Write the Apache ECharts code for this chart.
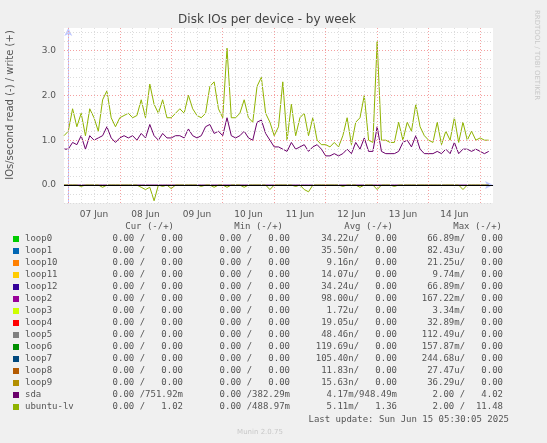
<!DOCTYPE html>
<html><head><meta charset="utf-8">
<script src="https://cdn.jsdelivr.net/npm/echarts@6/dist/echarts.min.js"></script>
<style>html,body{margin:0;padding:0;background:#f0f0f0}#c{width:547px;height:443px}</style>
</head><body><div id="c"></div>
<script>
// hours since 07 Jun 00:00, 2h step
const startHour = -2, stepHour = 2;
const lvWrite = [1.1,
 1.2,1.7,1.3,1.6,1.1,1.7,1.5,1.2,1.9,2.1,1.5,1.3,
 1.5,1.55,1.6,1.5,1.55,1.9,1.5,2.25,1.8,1.6,1.9,1.5,
 1.5,1.6,1.7,1.6,2.0,1.7,1.55,1.5,1.6,2.2,2.3,1.7,
 1.5,3.05,1.5,1.5,1.6,1.9,1.5,1.4,2.2,2.4,1.6,1.4,
 1.1,1.3,2.3,1.0,1.8,1.1,1.5,1.6,1.1,1.5,1.0,0.9,
 0.9,0.85,0.95,0.85,1.1,1.5,0.9,1.4,1.5,2.0,1.0,0.95,
 3.2,1.0,1.0,0.95,0.95,1.4,1.0,1.4,1.2,1.8,1.3,1.1,
 1.0,0.95,1.4,0.9,1.2,1.0,1.5,0.95,1.4,1.0,1.2,1.0,
 1.05,1.0,1.0];
const sdaWrite = [0.8,
 0.8,0.95,0.9,1.1,0.8,1.1,1.0,1.05,1.1,1.3,1.05,0.95,
 1.05,1.1,1.05,1.1,1.0,1.15,1.05,1.35,1.1,1.0,1.15,1.05,
 1.05,1.1,1.1,1.05,1.25,1.1,1.05,1.1,1.3,1.35,1.15,1.2,
 1.1,1.5,1.1,1.05,1.1,1.2,1.05,1.0,1.4,1.45,1.15,1.0,
 0.85,0.85,0.8,0.75,0.95,0.8,0.85,0.9,0.75,0.85,0.9,0.8,
 0.65,0.65,0.7,0.65,0.7,0.8,0.7,0.95,0.8,1.05,0.75,0.75,
 1.3,0.75,0.7,0.7,0.7,0.75,0.95,1.0,0.85,1.1,0.8,0.7,
 0.7,0.7,0.75,0.7,0.8,0.7,0.95,0.7,0.8,0.8,0.75,0.8,
 0.75,0.7,0.75];
const lvRead = [0,
 0,0,0,-0.03,0,0,0,0,-0.05,0,0,0,
 0,0,0,0,0,-0.05,-0.1,-0.05,-0.35,0,-0.03,0,
 -0.08,0,0,0,0,0,0,-0.03,0,0,-0.05,0,
 0,-0.05,0,0,0,-0.05,0,0,0,0,0,-0.1,
 0,0,0,0,0,-0.03,0,-0.1,-0.15,0,0,0,
 0,0,0,0,-0.03,0,0,0,-0.05,0,0,0,
 -0.1,0,0,0,-0.03,0,0,0,0,0,0,0,
 0,0,0,0,0,0,0,0,-0.1,0,0,0,
 0,0,0];
const sdaRead = lvRead.map(v => 0);
const dayLabels = ['07 Jun','08 Jun','09 Jun','10 Jun','11 Jun','12 Jun','13 Jun','14 Jun'];
const yTicks = [0,1,2,3];
const legendNames = ['loop0','loop1','loop10','loop11','loop12','loop2','loop3','loop4','loop5','loop6','loop7','loop8','loop9','sda','ubuntu-lv'];
const legendColors = ['#00cc00','#0066b3','#ff8000','#ffcc00','#330099','#990099','#ccff00','#ff0000','#808080','#008f00','#00487d','#b35a00','#b38f00','#6b006b','#8fb300'];
const curCol = ['0.00 /   0.00','0.00 /   0.00','0.00 /   0.00','0.00 /   0.00','0.00 /   0.00','0.00 /   0.00','0.00 /   0.00','0.00 /   0.00','0.00 /   0.00','0.00 /   0.00','0.00 /   0.00','0.00 /   0.00','0.00 /   0.00','0.00 /751.92m','0.00 /   1.02'];
const minCol = ['0.00 /   0.00','0.00 /   0.00','0.00 /   0.00','0.00 /   0.00','0.00 /   0.00','0.00 /   0.00','0.00 /   0.00','0.00 /   0.00','0.00 /   0.00','0.00 /   0.00','0.00 /   0.00','0.00 /   0.00','0.00 /   0.00','0.00 /382.29m','0.00 /488.97m'];
const avgCol = ['34.22u/   0.00','35.50n/   0.00','9.16n/   0.00','14.07u/   0.00','34.24u/   0.00','98.00u/   0.00','1.72u/   0.00','19.05u/   0.00','48.46n/   0.00','119.69u/   0.00','105.40n/   0.00','11.83n/   0.00','15.63n/   0.00','4.17m/948.49m','5.11m/   1.36'];
const maxCol = ['66.89m/   0.00','82.43u/   0.00','21.25u/   0.00','9.74m/   0.00','66.89m/   0.00','167.22m/   0.00','3.34m/   0.00','32.89m/   0.00','112.49u/   0.00','157.87m/   0.00','244.68u/   0.00','27.47u/   0.00','36.29u/   0.00','2.00 /   4.02','2.00 /  11.48'];

const xs = lvWrite.map((_, i) => startHour + i * stepHour);
const pair = arr => arr.map((v, i) => [xs[i], v]);

const vMinor = [], vMajor = [];
for (let h = 0; h <= 196; h += 6) { if (h % 24 === 0) vMajor.push({xAxis: h}); else vMinor.push({xAxis: h}); }
const hMinor = [], hMajor = [];
for (let k = -2; k <= 17; k++) { const y = k / 5; if (k % 5 === 0) hMajor.push({yAxis: y}); else hMinor.push({yAxis: y}); }

const mono = 'DejaVu Sans Mono';
const g = [];
const hdr = [['Cur (-/+)',174],['Min (-/+)',283],['Avg (-/+)',393],['Max (-/+)',502]];
hdr.forEach(([t,x]) => g.push({type:'text', x:x, y:227, style:{text:t, font:'9px '+mono, fill:'#555', align:'right', verticalAlign:'middle'}}));
legendNames.forEach((n, i) => {
  const y = 239 + i * 12;
  g.push({type:'rect', shape:{x:13, y:y-3, width:6, height:6}, style:{fill:legendColors[i]}});
  g.push({type:'text', x:25, y:y, style:{text:n, font:'9px '+mono, fill:'#555', verticalAlign:'middle'}});
  [[curCol,183],[minCol,290],[avgCol,397],[maxCol,503]].forEach(([c,x]) =>
    g.push({type:'text', x:x, y:y, style:{text:c[i], font:'9px '+mono, fill:'#555', align:'right', verticalAlign:'middle'}}));
});
g.push({type:'text', x:509, y:420, style:{text:'Last update: Sun Jun 15 05:30:05 2025', font:'9px '+mono, fill:'#555', align:'right', verticalAlign:'middle'}});
g.push({type:'text', x:260, y:432, style:{text:'Munin 2.0.75', font:'7px DejaVu Sans', fill:'#c8c8c8', align:'center', verticalAlign:'middle'}});
g.push({type:'text', x:10, y:105, rotation:Math.PI/2, style:{text:'IOs/second read (-) / write (+)', font:'10px DejaVu Sans', fill:'#555', align:'center', verticalAlign:'middle'}});
g.push({type:'text', x:537, y:55, rotation:-Math.PI/2, style:{text:'RRDTOOL / TOBI OETIKER', font:'7px DejaVu Sans', fill:'#c8c8c8', align:'center', verticalAlign:'middle'}});

const ch = echarts.init(document.getElementById('c'));
ch.setOption({
  backgroundColor:'#f0f0f0', animation:false,
  title:{text:'Disk IOs per device - by week', left:262, top:9, textAlign:'center', textStyle:{fontFamily:'DejaVu Sans', fontSize:12, fontWeight:'normal', color:'#444'}},
  grid:{left:64, right:54, top:28, bottom:240, backgroundColor:'#fff', show:true, borderWidth:0},
  xAxis:{type:'value', min:-2, max:198, interval:2,
    axisLine:{lineStyle:{color:'#c0c8ff'}, symbol:['none','arrow'], symbolSize:[6,8]},
    axisTick:{show:false}, splitLine:{show:false},
    axisLabel:{fontFamily:'DejaVu Sans', fontSize:9, color:'#555', margin:7,
      formatter: v => (v % 24 === 12 && v > 0) ? dayLabels[(v - 12) / 24] || '' : ''}},
  yAxis:{type:'value', min:-0.4, max:3.5, interval:0.2,
    axisLine:{show:true, lineStyle:{color:'#c0c8ff'}, symbol:['none','arrow'], symbolSize:[6,8]},
    axisTick:{show:false}, splitLine:{show:false},
    axisLabel:{fontFamily:'DejaVu Sans', fontSize:9, color:'#555', margin:8,
      formatter: v => Math.abs(v - Math.round(v)) < 1e-6 && yTicks.includes(Math.round(v)) ? Math.round(v).toFixed(1) : ''}},
  graphic:g,
  series:[
    {type:'line', data:[], silent:true, markLine:{symbol:'none', silent:true, label:{show:false}, lineStyle:{color:'#dcdcdc', type:[1,2], width:1}, data:vMinor.concat(hMinor)}},
    {type:'line', data:[], silent:true, markLine:{symbol:'none', silent:true, label:{show:false}, lineStyle:{color:'#f4a0a0', type:[1,2], width:1}, data:vMajor.concat(hMajor)}},
    {name:'sda', type:'line', data:pair(sdaWrite), showSymbol:false, lineStyle:{color:'#6b006b', width:1}},
    {name:'sda read', type:'line', data:pair(sdaRead), showSymbol:false, lineStyle:{color:'#6b006b', width:1}},
    {name:'ubuntu-lv', type:'line', data:pair(lvWrite), showSymbol:false, lineStyle:{color:'#8fb300', width:1}},
    {name:'ubuntu-lv read', type:'line', data:pair(lvRead), showSymbol:false, lineStyle:{color:'#8fb300', width:1}},
    {type:'line', data:[], silent:true, markLine:{symbol:'none', silent:true, label:{show:false}, lineStyle:{color:'#000', type:'solid', width:1}, data:[{yAxis:0}]}}
  ]
});
</script></body></html>
